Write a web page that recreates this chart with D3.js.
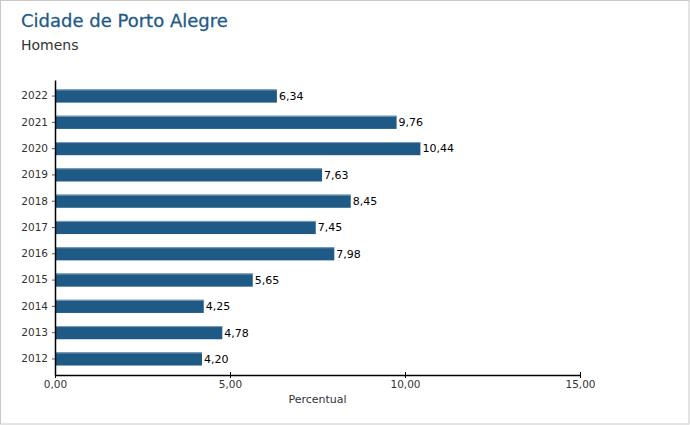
<!DOCTYPE html>
<html lang="pt">
<head>
<meta charset="UTF-8">
<title>Cidade de Porto Alegre</title>
<script src="https://d3js.org/d3.v7.min.js"></script>
<style>
    body { margin: 0; background: #fff; }
    text { font-family: "DejaVu Sans", Verdana, sans-serif; }
</style>
</head>
<body>
<div id="chart"></div>
<script>
    var anos = ["2022", "2021", "2020", "2019", "2018", "2017", "2016", "2015", "2014", "2013", "2012"];
    var valores = [6.34, 9.76, 10.44, 7.63, 8.45, 7.45, 7.98, 5.65, 4.25, 4.78, 4.20];
    var ticksX = [0, 5, 10, 15];

    var w = 690, h = 425;
    var margin = {top: 80, right: 110, bottom: 50, left: 55};

    var fmt = function (v) { return d3.format(".2f")(v).replace(".", ","); };

    var svg = d3.select("#chart").append("svg")
        .attr("width", w)
        .attr("height", h);

    svg.append("rect")
        .attr("x", 0.5).attr("y", 0.5)
        .attr("width", w - 1.5).attr("height", h - 1.5)
        .attr("fill", "#fff")
        .attr("stroke", "#c8c8c8");

    svg.append("text")
        .attr("x", 21).attr("y", 27)
        .attr("font-size", 18)
        .attr("fill", "#1f5a87")
        .attr("stroke", "#1f5a87")
        .attr("stroke-width", 0.3)
        .text("Cidade de Porto Alegre");

    svg.append("text")
        .attr("x", 21).attr("y", 50)
        .attr("font-size", 14)
        .attr("fill", "#333")
        .text("Homens");

    var x = d3.scaleLinear()
        .domain([0, 15])
        .range([margin.left, w - margin.right]);

    var y = d3.scaleBand()
        .domain(anos)
        .range([margin.top, h - margin.bottom])
        .paddingInner(0.5)
        .paddingOuter(0.36);

    var g = svg.append("g");

    g.selectAll("rect.bar")
        .data(valores)
        .enter()
        .append("rect")
        .attr("class", "bar")
        .attr("x", x(0))
        .attr("y", function (d, i) { return y(anos[i]); })
        .attr("width", function (d) { return x(d) - x(0); })
        .attr("height", y.bandwidth())
        .attr("fill", "#1f5a87");

    // faixa clara no topo de cada barra
    g.selectAll("line.topo")
        .data(valores)
        .enter()
        .append("line")
        .attr("class", "topo")
        .attr("x1", x(0))
        .attr("x2", function (d) { return x(d); })
        .attr("y1", function (d, i) { return y(anos[i]) + 0.5; })
        .attr("y2", function (d, i) { return y(anos[i]) + 0.5; })
        .attr("stroke", "#7f9fbb")
        .attr("stroke-width", 1);

    g.selectAll("text.valor")
        .data(valores)
        .enter()
        .append("text")
        .attr("class", "valor")
        .attr("x", function (d) { return x(d) + 2; })
        .attr("y", function (d, i) { return y(anos[i]) + y.bandwidth() / 2; })
        .attr("dy", "0.35em")
        .attr("font-size", 11)
        .attr("fill", "#000")
        .text(function (d) { return fmt(d); });

    var eixoX = svg.append("g")
        .attr("transform", "translate(0," + (h - margin.bottom) + ")")
        .call(d3.axisBottom(x).tickValues(ticksX).tickSize(4).tickSizeOuter(0).tickFormat(fmt));
    eixoX.select(".domain").attr("stroke", "#000").attr("stroke-width", 1.5);
    eixoX.selectAll(".tick line").attr("y1", -3).attr("y2", 3).attr("stroke", "#000");
    eixoX.selectAll(".tick text")
        .attr("y", 6).attr("dy", "0.71em")
        .attr("font-size", 10.5).attr("fill", "#333")
        .attr("font-family", "DejaVu Sans, sans-serif");

    var eixoY = svg.append("g")
        .attr("transform", "translate(" + margin.left + ",0)")
        .call(d3.axisLeft(y).tickSize(3).tickSizeOuter(0).tickPadding(4));
    eixoY.select(".domain").attr("stroke", "#000").attr("stroke-width", 1.5);
    eixoY.selectAll(".tick line").attr("stroke", "#555");
    eixoY.selectAll(".tick text")
        .attr("font-size", 10.5).attr("fill", "#333")
        .attr("font-family", "DejaVu Sans, sans-serif");

    svg.append("text")
        .attr("x", (x(0) + x(15)) / 2)
        .attr("y", 403)
        .attr("text-anchor", "middle")
        .attr("font-size", 11)
        .attr("fill", "#333")
        .text("Percentual");
</script>
</body>
</html>
